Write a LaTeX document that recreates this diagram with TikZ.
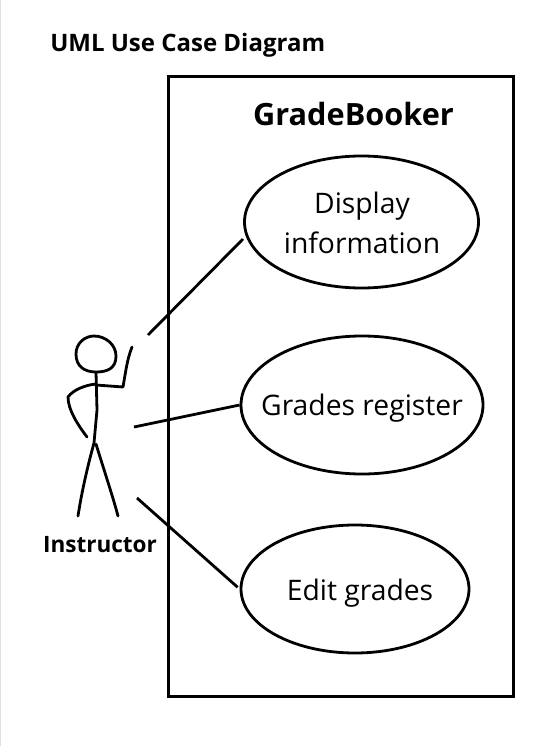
\documentclass[tikz,border=0pt]{standalone}
\usepackage{fontspec}
\setmainfont{Open Sans}
\usetikzlibrary{shapes.geometric}
\tikzset{
 px/.style={x=0.75pt,y=-0.75pt},
 usecase/.style={draw=black,line width=2.1pt,ellipse,inner sep=-40pt,align=center},
 uclabel/.style={inner sep=0pt,align=center,font=\fontsize{21.2pt}{30pt}\selectfont},
 lnk/.style={line width=2.1pt,black},
 stick/.style={line width=2.1pt,black,line cap=round,line join=round}
}
\begin{document}
\begin{tikzpicture}[px]
\useasboundingbox (0,0) rectangle (557,746);
\fill[white] (0,0) rectangle (557,746);
\draw[gray!25,line width=.75pt] (0.5,0)--(0.5,746);
\node[font=\bfseries\fontsize{18pt}{20pt}\selectfont,inner sep=0pt,anchor=west] (title) at (50,45) {UML Use Case Diagram};
\node[draw=black,line width=2.2pt,minimum width=259pt,minimum height=465.5pt,inner sep=0pt] (sys) at (341,386.5) {};
\node[font=\bfseries\fontsize{23pt}{26pt}\selectfont,inner sep=0pt] (name) at (353.5,114) {GradeBooker};
\node[usecase,minimum width=175.5pt,minimum height=99pt] (uc1) at (361.5,222) {};
\node[usecase,minimum width=181.5pt,minimum height=103.5pt] (uc2) at (362,405) {};
\node[usecase,minimum width=171pt,minimum height=96pt] (uc3) at (355,589) {};
\node[uclabel] (t1) at (362,223) {Display\\information};
\node[uclabel] (t2) at (362,408) {Grades register};
\node[uclabel] (t3) at (360,593) {Edit grades};
\node[font=\bfseries\fontsize{16.9pt}{20pt}\selectfont,inner sep=0pt] (actor) at (100,545) {Instructor};
\coordinate (a1) at (148,335);
\coordinate (a2) at (134,427);
\coordinate (a3) at (137,498);
\coordinate (e1) at (243,239);
\draw[lnk] (a1) -- (e1);
\draw[lnk] (a2) -- (uc2.west);
\draw[lnk,shorten >=2pt] (a3) -- (uc3.west);
\draw[stick] (76,354) .. controls (76,343) and (85,336) .. (94,336) .. controls (106,336) and (116,345) .. (116,356) .. controls (116,368) and (108,372) .. (96,372) .. controls (84,372) and (76,366) .. (76,354) -- cycle;
\draw[stick] (96,372) -- (97,410) -- (94,443) .. controls (88,465) and (82,490) .. (78,516);
\draw[stick] (96,444) .. controls (103,467) and (113,497) .. (118,516);
\draw[stick] (96,384) .. controls (85,385) and (73,390) .. (68,397) .. controls (68,410) and (78,425) .. (87,437);
\draw[stick] (96,385) -- (123,387) .. controls (126,370) and (127,360) .. (132,347);
\end{tikzpicture}
\end{document}
